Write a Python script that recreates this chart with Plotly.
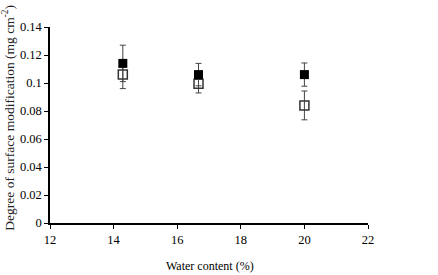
import plotly.graph_objects as go

water_content = [14.29, 16.67, 20.0]
filled_values = [0.114, 0.106, 0.106]
filled_errors = [0.013, 0.008, 0.0083]
open_values = [0.106, 0.0995, 0.084]
open_errors = [0.0100, 0.0066, 0.0103]
x_ticks = [12, 14, 16, 18, 20, 22]
y_ticks = [0, 0.02, 0.04, 0.06, 0.08, 0.1, 0.12, 0.14]
y_tick_labels = ["0", "0.02", "0.04", "0.06", "0.08", "0.1", "0.12", "0.14"]
x_title = "Water content (%)"
y_title = "Degree of surface modification (mg cm<sup>-2</sup>)"

font_family = "Liberation Serif"

fig = go.Figure()
fig.add_trace(go.Scatter(
    x=water_content, y=open_values, mode="markers",
    marker=dict(symbol="square-open", size=9, color="#333333", line=dict(width=1.5, color="#333333")),
    error_y=dict(type="data", array=open_errors, visible=True, color="#444444", thickness=1, width=3),
    showlegend=False,
))
fig.add_trace(go.Scatter(
    x=water_content, y=filled_values, mode="markers",
    marker=dict(symbol="square", size=9, color="black", line=dict(width=0)),
    error_y=dict(type="data", array=filled_errors, visible=True, color="#444444", thickness=1, width=3),
    showlegend=False,
))

fig.update_layout(
    width=438, height=275,
    margin=dict(l=49.5, r=70, t=27, b=51.5, autoexpand=False),
    paper_bgcolor="white", plot_bgcolor="white",
    font=dict(family=font_family, size=12.5, color="black"),
    xaxis=dict(
        range=[12, 22], tickvals=x_ticks, showgrid=False, zeroline=False, automargin=False,
        showline=True, linecolor="black", linewidth=1.5,
        ticks="outside", ticklen=4, tickcolor="black", tickwidth=1,
    ),
    yaxis=dict(
        range=[0, 0.14], tickvals=y_ticks, ticktext=y_tick_labels, showgrid=False, zeroline=False, automargin=False,
        showline=True, linecolor="black", linewidth=1.5,
        ticks="outside", ticklen=4, tickcolor="black", tickwidth=1,
    ),
    annotations=[
        dict(text=x_title, xref="paper", yref="paper", x=0.504, y=0, yshift=-42.5,
             showarrow=False, xanchor="center", yanchor="middle",
             font=dict(family=font_family, size=12, color="black")),
        dict(text=y_title, xref="paper", yref="paper", x=0, y=0.535, xshift=-41.5,
             showarrow=False, xanchor="center", yanchor="middle", textangle=-90,
             font=dict(family=font_family, size=13.5, color="#222222")),
    ],
)

fig.write_html("out.html")
